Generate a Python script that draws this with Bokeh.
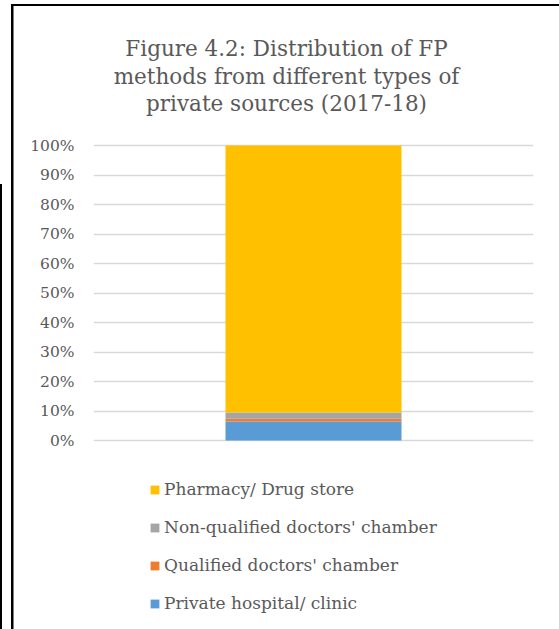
from bokeh.plotting import figure
from bokeh.models import (FixedTicker, NumeralTickFormatter, Label, Legend, LegendItem,
                          ColumnDataSource, Range1d)
from bokeh.embed import file_html
from bokeh.resources import INLINE

# ---- data ----
categories = ["Private sources"]
series_names = ["Private hospital/ clinic", "Qualified doctors' chamber",
                "Non-qualified doctors' chamber", "Pharmacy/ Drug store"]
private_hospital = [0.064]
qualified_doctors = [0.010]
nonqualified_doctors = [0.021]
pharmacy = [0.905]
colors = ["#5B9BD5", "#ED7D31", "#A5A5A5", "#FFC000"]
y_ticks = [0.0, 0.1, 0.2, 0.3, 0.4, 0.5, 0.6, 0.7, 0.8, 0.9, 1.0]
title_lines = ["Figure 4.2: Distribution of FP",
               "methods from different types of",
               "private sources (2017-18)"]

FONT = "DejaVu Serif"
TXT = "#595959"

W, H = 559, 629
FL, FR = 93, 533          # frame left/right in canvas px
Y0, Y100 = 440, 145       # canvas px of 0% and 100%
ppu = (Y0 - Y100)         # pixels per unit (100%)

y_range = Range1d(-(H - Y0) / ppu, 1 + Y100 / ppu)

p = figure(width=W, height=H, x_range=categories, y_range=y_range,
           output_backend="svg", toolbar_location=None,
           min_border_left=FL, min_border_right=W - FR,
           min_border_top=0, min_border_bottom=0,
           styles={"background-color": "white",
                   "background-image": "linear-gradient(black,black), linear-gradient(black,black), linear-gradient(black,black)",
                   "background-size": "548px 2px, 2.5px 625px, 2px 445px",
                   "background-position": "11px 4px, 11px 4px, 0px 184px",
                   "background-repeat": "no-repeat"})
p.border_fill_alpha = 0
p.background_fill_alpha = 0
p.outline_line_color = None
p.xaxis.visible = False
p.xgrid.grid_line_color = None
p.ygrid.grid_line_color = "#D9D9D9"
p.ygrid.grid_line_width = 1.5

yax = p.yaxis[0]
yax.ticker = FixedTicker(ticks=y_ticks)
yax.formatter = NumeralTickFormatter(format="0%")
yax.axis_line_color = None
yax.major_tick_line_color = None
yax.minor_tick_line_color = None
yax.major_label_standoff = 13
yax.major_label_text_font = FONT
yax.major_label_text_font_size = "15.5px"
yax.major_label_text_color = TXT

src = ColumnDataSource(dict(cat=categories, a=private_hospital, b=qualified_doctors,
                            c=nonqualified_doctors, d=pharmacy))
rs = p.vbar_stack(["a", "b", "c", "d"], x="cat", width=0.4, color=colors,
                  source=src, line_color=None)


def sx(X):
    return X - FL


def sy(Y):
    return H - Y


items = [LegendItem(label=series_names[i], renderers=[rs[i]]) for i in [3, 2, 1, 0]]
legend = Legend(items=items, location=(sx(149), sy(613)), orientation="vertical",
                glyph_width=11, glyph_height=11, label_height=20, spacing=18,
                label_standoff=4, padding=0, margin=0,
                border_line_color=None, background_fill_alpha=0,
                label_text_font=FONT, label_text_font_size="17px",
                label_text_color=TXT)
p.add_layout(legend)

for i, line in enumerate(title_lines):
    p.add_layout(Label(x=sx(286), y=sy(48 + 27.5 * i), x_units="screen", y_units="screen",
                       text=line, text_align="center", text_baseline="alphabetic",
                       text_font=FONT, text_font_size="21.5px", text_color=TXT))

open("out.html", "w").write(file_html(p, INLINE))
